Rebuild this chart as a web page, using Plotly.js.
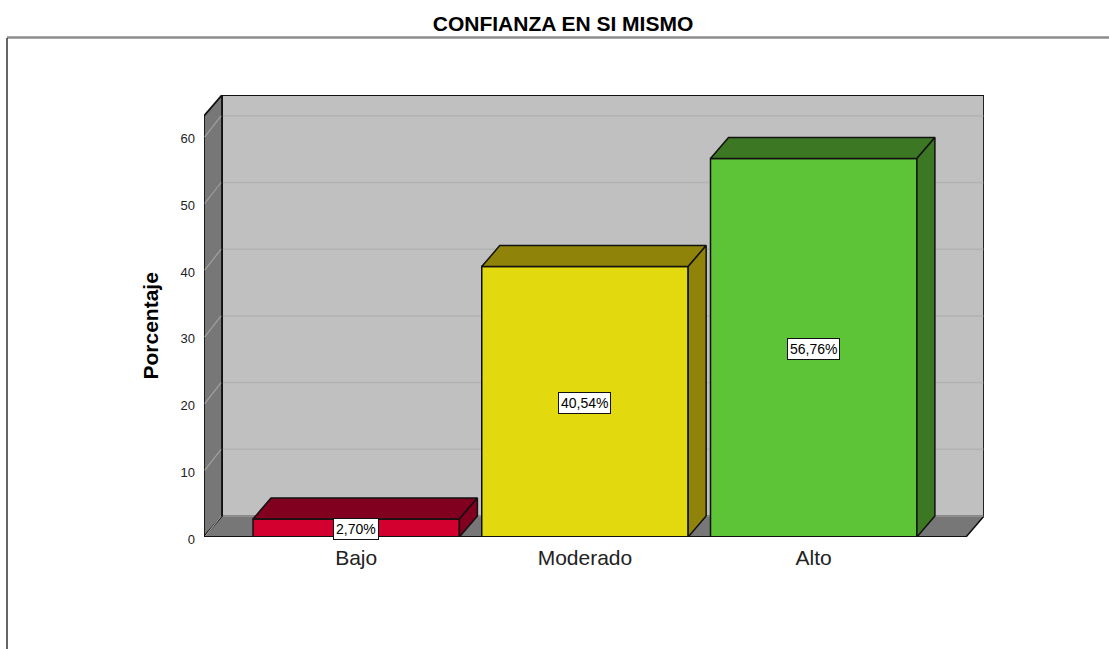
<!DOCTYPE html>
<html>
<head>
<meta charset="utf-8">
<script src="https://cdn.plot.ly/plotly-3.0.1.min.js"></script>
<style>html,body{margin:0;padding:0;background:#fff;overflow:hidden}#c{width:1109px;height:649px}</style>
</head>
<body>
<div id="c"></div>
<script>
const categories = ['Bajo', 'Moderado', 'Alto'];
const values = [2.70, 40.54, 56.76];
const labels = ['2,70%', '40,54%', '56,76%'];
const yTicks = [0, 10, 20, 30, 40, 50, 60];
const frontColors = ['#d3002f', '#e3d90f', '#5dc337'];
const sideColors = ['#82001f', '#8f8409', '#3c7823'];
const titleText = 'CONFIANZA EN SI MISMO';
const yTitle = 'Porcentaje';

const W = 1109, H = 649, L = 204, R = 984, T = 95, B = 537;
const pxX = 228.75, pxY = 6.67;
const center0 = 356.2;
const xMin = (L - center0) / pxX, xMax = (R - center0) / pxX;
const yMax = (B - T) / pxY;
const dx = 18 / pxX, dy = 21 / pxY;
const barW = 206.4 / pxX;
const px = (x) => (x - L) / (R - L);
const py = (y) => (B - y) / (B - T);

const path = (pts) => 'M' + pts.map(p => p[0] + ',' + p[1]).join('L') + 'Z';
const edge = {color: '#111', width: 1.8};
const shapes = [
  {type:'rect', layer:'below', x0:xMin+dx, x1:xMax, y0:dy, y1:yMax, fillcolor:'#c0c0c0', line:edge},
  {type:'path', layer:'below', path:path([[xMin,0],[xMin+dx,dy],[xMin+dx,yMax],[xMin,yMax-dy]]), fillcolor:'#777', line:edge},
  {type:'path', layer:'below', path:path([[xMin,0],[xMin+dx,dy],[xMax,dy],[xMax-dx,0]]), fillcolor:'#777', line:{color:'#111',width:1.5}}
];
yTicks.forEach((t) => {
  shapes.push({type:'line', layer:'below', x0:xMin+dx+0.004, x1:xMax-0.003, y0:t+dy, y1:t+dy, line:{color:'#b2b2b2', width:1.5}});
  shapes.push({type:'line', layer:'below', x0:xMin+0.003, x1:xMin+dx-0.004, y0:t, y1:t+dy, line:{color:'#a0a0a0', width:1.2}});
});
shapes.push({type:'line', layer:'above', x0:xMin, x1:xMax-dx, y0:0, y1:0, line:{color:'#111', width:2}});
// outer frame of the viewer window
shapes.push({type:'line', layer:'above', xref:'paper', yref:'paper', x0:px(7), x1:px(W), y0:py(37.5), y1:py(37.5), line:{color:'#8c8c8c', width:2.5}});
shapes.push({type:'line', layer:'above', xref:'paper', yref:'paper', x0:px(7), x1:px(7), y0:py(38), y1:py(H), line:{color:'#333', width:1.5}});

const data = [{
  type:'bar', x:categories.map((c,i)=>i), y:values, width:barW, hoverinfo:'skip',
  marker:{color:frontColors, line:{color:'#111', width:1.5}}
}];
categories.forEach((c,i) => {
  const a = i - barW/2, b = i + barW/2, v = values[i];
  const poly = (pts) => ({type:'scatter', mode:'lines', x:pts.map(p=>p[0]), y:pts.map(p=>p[1]),
    fill:'toself', fillcolor:sideColors[i], line:{color:'#111', width:1.5}, hoverinfo:'skip', showlegend:false});
  data.push(poly([[a,v],[a+dx,v+dy],[b+dx,v+dy],[b,v],[a,v]]));
  data.push(poly([[b,v],[b+dx,v+dy],[b+dx,dy],[b,0],[b,v]]));
});

const annotations = categories.map((c,i) => ({
  x:i, y:values[i]/2, yshift:-1, text:labels[i], showarrow:false, xanchor:'center', yanchor:'middle',
  bgcolor:'#fff', bordercolor:'#111', borderwidth:1, borderpad:2,
  font:{family:'"Liberation Sans", Arial, sans-serif', size:14, color:'#000'}
}));
annotations.push({xref:'paper', yref:'paper', x:px(150), y:py(326.5), text:'<b>'+yTitle+'</b>', textangle:-90, showarrow:false,
  xanchor:'center', yanchor:'middle', font:{size:21, color:'#000'}});

const layout = {
  width:W, height:H, paper_bgcolor:'#fff', plot_bgcolor:'rgba(0,0,0,0)', showlegend:false,
  margin:{l:L, r:W-R, t:T, b:H-B, pad:0},
  font:{family:'"Liberation Sans", Arial, sans-serif', color:'#000'},
  title:{text:'<b>'+titleText+'</b>', x:563/W, xanchor:'center', y:1-24/H, yanchor:'middle', font:{size:21, color:'#000'}},
  xaxis:{range:[xMin,xMax], tickmode:'array', tickvals:categories.map((c,i)=>i), ticktext:categories, showgrid:false, zeroline:false, showline:false,
    ticks:'', tickfont:{size:21, color:'#222'}, ticklabelstandoff:6},
  yaxis:{range:[0,yMax], tickmode:'array', tickvals:yTicks, ticktext:yTicks.map(String), showgrid:false, zeroline:false, showline:false,
    ticks:'', tickfont:{size:13, color:'#222'}, ticklabelstandoff:8, ticklabelshift:2},
  shapes, annotations, bargap:0
};
Plotly.newPlot('c', data, layout, {displayModeBar:false, staticPlot:true});
</script>
</body>
</html>
